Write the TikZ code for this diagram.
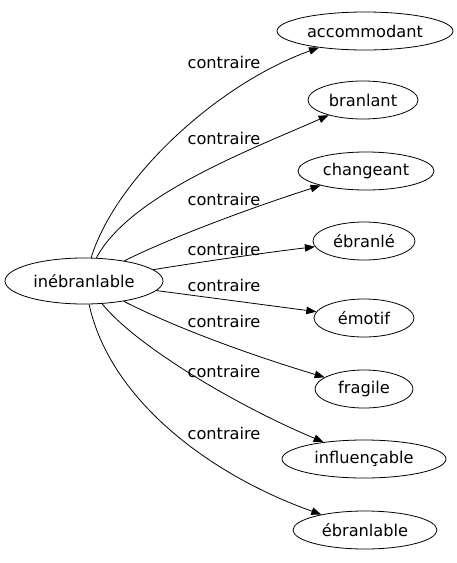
\documentclass[tikz,border=0pt]{standalone}
\usepackage{fontspec}
\setmainfont{DejaVu Sans}
\usetikzlibrary{arrows.meta,shapes.geometric}
\tikzset{
  >={Triangle[length=10pt,width=7.5pt]},
  every picture/.append style={line width=0.8pt},
  every node/.append style={font=\fontsize{16.2}{19}\selectfont},
}
\tikzset{
  term/.style={draw, ellipse, inner sep=0pt, minimum height=38pt},
  rel/.style={->},
  rellabel/.style={inner sep=1pt}
}

\begin{document}
\begin{tikzpicture}[x=1pt,y=-1pt]
\useasboundingbox (0,0) rectangle (457,563);

% --- Geometry ---
\def\xterm{364}   % x of the antonym column
\def\xlabel{224}  % x of the edge labels

% --- Source term ---
\node[term, minimum width=158pt, minimum height=46pt] (inebranlable) at (84,281) {inébranlable};

% --- Antonyms (right column) ---
\node[term, minimum width=176pt] (accommodant) at (365,31) {accommodant};
\node[term, minimum width=110pt] (branlant) at (363,100) {branlant};
\node[term, minimum width=136pt] (changeant) at (366,171) {changeant};
\node[term, minimum width=102pt] (ebranle) at (\xterm,241) {ébranlé};
\node[term, minimum width=100pt] (emotif) at (\xterm,318) {émotif};
\node[term, minimum width=98pt] (fragile) at (\xterm,389) {fragile};
\node[term, minimum width=164pt] (influencable) at (\xterm,459) {influençable};
\node[term, minimum width=144pt] (ebranlable) at (365,530) {ébranlable};

% --- Edges ---
\draw[rel] (inebranlable) .. controls (115,180) and (215,85) .. (accommodant);
\draw[rel] (inebranlable) .. controls (130,195) and (250,150) .. (branlant);
\draw[rel] (inebranlable) .. controls (170,238) and (250,208) .. (changeant);
\draw[rel] (inebranlable) .. controls (200,262) and (270,252) .. (ebranle);
\draw[rel] (inebranlable) -- (emotif);
\draw[rel] (inebranlable) .. controls (180,330) and (260,358) .. (fragile);
\draw[rel] (inebranlable) .. controls (135,345) and (235,405) .. (influencable);
\draw[rel] (inebranlable) .. controls (110,400) and (210,475) .. (ebranlable);

% --- Edge labels ---
\foreach \n/\y in {1/62, 2/138, 3/199, 4/249, 5/285, 6/321, 7/371, 8/433} {
  \node[rellabel] (contraire\n) at (\xlabel,\y) {contraire};
}

\end{tikzpicture}
\end{document}
